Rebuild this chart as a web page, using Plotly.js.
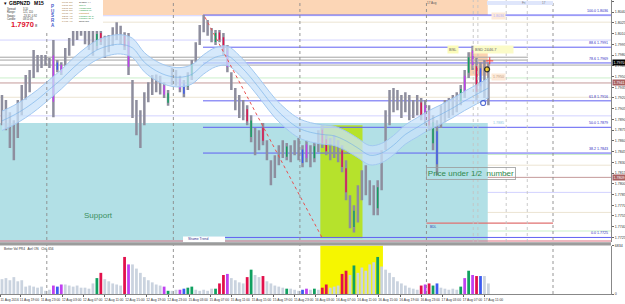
<!DOCTYPE html>
<html><head><meta charset="utf-8">
<script src="https://cdn.plot.ly/plotly-3.0.1.min.js"></script>
<style>html,body{margin:0;padding:0;background:#fff;}#chart{width:625px;height:304px;}</style>
</head><body><div id="chart"></div>
<script>
// ---------------- DATA ----------------
const symbol = "GBPNZD";
const timeframe = "M15";
const lastPrice = 1.7970;
// one sample = 3 M15 bars, first sample starts 11 Aug 2016 15:15
const BARS_PER_SAMPLE = 3;
const sampleHigh = [1.7924,1.7917,1.7900,1.7889,1.7917,1.7938,1.7952,1.7959,1.7987,1.7980,
1.7980,1.7980,1.7976,1.8001,1.7973,1.7970,1.7990,1.8004,1.8015,1.8022,
1.8026,1.8023,1.8018,1.8015,1.8015,1.8015,1.8007,1.8008,1.8019,1.8026,
1.8021,1.8012,1.8011,1.7945,1.7917,1.7903,1.7928,1.7942,1.7952,1.7953,
1.7951,1.7942,1.7931,1.7962,1.7959,1.7951,1.7945,1.7956,1.7973,1.7998,
1.8022,1.8036,1.8029,1.8018,1.8015,1.8015,1.8011,1.7994,1.7956,1.7934,
1.7924,1.7917,1.7910,1.7896,1.7878,1.7875,1.7885,1.7861,1.7833,1.7840,
1.7854,1.7861,1.7857,1.7854,1.7861,1.7864,1.7854,1.7861,1.7854,1.7858,
1.7875,1.7882,1.7868,1.7864,1.7868,1.7861,1.7854,1.7833,1.7784,1.7770,
1.7798,1.7819,1.7826,1.7805,1.7798,1.7805,1.7847,1.7903,1.7931,1.7934,
1.7931,1.7924,1.7928,1.7924,1.7917,1.7924,1.7920,1.7917,1.7910,1.7896,
1.7889,1.7910,1.7917,1.7920,1.7924,1.7928,1.7938,1.7959,1.7984,1.7993,
1.7976,1.7970,1.7973,1.7970];
const sampleLow = [1.7882,1.7875,1.7850,1.7833,1.7864,1.7896,1.7917,1.7928,1.7948,1.7956,
1.7962,1.7965,1.7962,1.7893,1.7956,1.7952,1.7965,1.7979,1.7993,1.8001,
1.8007,1.7995,1.7987,1.7979,1.7987,1.7994,1.7976,1.7984,1.7993,1.8001,
1.7995,1.7987,1.7952,1.7892,1.7868,1.7850,1.7882,1.7914,1.7924,1.7928,
1.7925,1.7920,1.7909,1.7938,1.7937,1.7928,1.7921,1.7931,1.7945,1.7970,
1.7994,1.8012,1.8007,1.7998,1.7994,1.7998,1.7980,1.7956,1.7931,1.7903,
1.7892,1.7889,1.7882,1.7858,1.7840,1.7847,1.7854,1.7833,1.7798,1.7808,
1.7826,1.7836,1.7833,1.7830,1.7840,1.7833,1.7823,1.7830,1.7823,1.7830,
1.7844,1.7850,1.7840,1.7833,1.7836,1.7830,1.7816,1.7777,1.7738,1.7732,
1.7746,1.7777,1.7784,1.7770,1.7756,1.7756,1.7791,1.7847,1.7882,1.7900,
1.7903,1.7892,1.7900,1.7889,1.7892,1.7896,1.7889,1.7882,1.7875,1.7847,
1.7812,1.7878,1.7886,1.7892,1.7896,1.7900,1.7910,1.7920,1.7948,1.7959,
1.7917,1.7928,1.7920,1.7910];
// VSA bar class: N normal, U up-climax, D down-climax, C churn, L low volume
const vsaClass = ("NNNNNNNNNN"+"NNNCLCNNNN"+"NNNNUDNNNN"+"NDCNNNNNNN"+"NCUNNCLUUN"+
"NNNNUDDCNN"+"NNDUNNDNNN"+"NNUNNNLCNU"+"NDDNNNDDNU"+"NNNNNUNNNN"+"NNNNNNDCDU"+"LNNNNNUCUC"+"DLNN").split('');
const volume = [2090,2240,1940,2380,1790,1940,1040,1190,1040,890,
1040,450,600,1190,1040,1340,1340,1190,1040,1190,
890,890,750,1490,2240,2980,2090,1790,1490,1340,
1190,5220,4170,4170,3580,2980,2380,1940,1640,1340,
1190,1040,450,450,600,600,750,890,1040,600,
450,600,450,750,750,1490,2680,2830,2240,1940,
1640,1490,2380,3430,2680,2380,2530,1790,1490,1190,
1040,890,750,750,600,450,600,750,600,750,
600,890,1340,890,1040,1190,2830,3280,2680,4020,
2980,3730,3280,4170,4470,5220,3870,3430,2980,2380,
1790,1490,1190,890,750,600,1190,1340,1490,1190,
1490,890,750,600,750,600,1040,2240,3280,2680,
2530,2530,2530,1490];
const volumeMax = 6834;
// moving-average envelope centre, one value every 3 samples
const maMid = [1.7888,1.7896,1.7906,1.7918,1.7932,1.7946,1.7962,1.7976,1.7987,1.7993,
1.7995,1.7990,1.7970,1.7958,1.7951,1.7949,1.7953,1.7967,1.7977,1.7979,
1.7966,1.7948,1.7927,1.7906,1.7890,1.7878,1.7872,1.7869,1.7867,1.7860,
1.7850,1.7840,1.7843,1.7854,1.7869,1.7879,1.7889,1.7897,1.7906,1.7916,
1.7925,1.7934];
const maHalfWidth = 0.00135;
// time axis
const tickBars = [0,15,31,47,63,79,95,111,127,143,159,175,191,207,223,239,255,271,287,303,319,335,351,367];
const tickText = ["11 Aug 2016","11 Aug 19:00","11 Aug 23:00","12 Aug 03:00","12 Aug 07:00","12 Aug 11:00",
"12 Aug 15:00","12 Aug 19:00","12 Aug 23:00","15 Aug 03:00","15 Aug 07:00","15 Aug 11:00","15 Aug 15:00",
"15 Aug 19:00","15 Aug 23:00","16 Aug 03:00","16 Aug 07:00","16 Aug 11:00","16 Aug 15:00","16 Aug 19:00",
"16 Aug 23:00","17 Aug 03:00","17 Aug 07:00","17 Aug 11:00"];
const daySeparatorBars = [35,131,227,323,419];
const sessionBars = [358.5,362,383.5,399.5];
// Fibonacci retracement
const fibStartBar = 153.5;
const fibPct = ["100.0","88.6","78.6","61.8","50.0","38.2","0.0"];
const fibPrice = [1.8036,1.7991,1.7969,1.7916,1.7879,1.7843,1.7725];
// pivot / level lines
const levelPrice = [1.8035,1.8026,1.8001,1.7966,1.7948,1.7941,1.7921,1.7895,1.7841,1.7826,1.7809,1.7788,1.7760,1.7734];
const levelKind  = ["lav","pale","lav","grey","green","brown","pale","lav","green","pale","brown","lav","pale","green"];
const greyPair = [1.7977,1.7973];
// zones [startBar, endBar, lowPrice, highPrice]
const supplyZone = [75.5,369.5,1.8036,1.8060];
const supportZone = [-0.5,369.5,1.7700,1.7885];
const climaxZone = [242.5,274.5,1.7724,1.7882];
const targetZone = [355,369.5,1.7951,1.7984];
const climaxVolumeBars = [242.5,290];
const trendBars = [155,244], trendPrices = [1.8033,1.7724];
const bdlBars = [323,419], bdlPrice = 1.7745;
const bottomTrendPrice = 1.7720;
const signalBars = [369,366,371], signalPrices = [1.7960,1.7913,1.7972];

// ---------------- BUILD ----------------
const sampleBars = sampleHigh.map((_, i) => i*BARS_PER_SAMPLE + 1);
const maBars = maMid.map((_, k) => k*3*BARS_PER_SAMPLE + 1);
const priceCol = {U:'#11a060',D:'#e2104c',C:'#c040f0',L:'#3c5cf0'};
const volCol   = {N:'#cad3df',U:'#11a060',D:'#e2104c',C:'#c040f0',L:'#3c5cf0'};
const yRange = [1.77182, 1.8057];
const PW = 611, PH = 294;
const px = x => x/PW, py = y => (PH - y)/PH;
const colored = sampleBars.map((_, i) => i).filter(i => vsaClass[i] !== 'N');

const traces = [
 {type:'scatter',mode:'lines',x:maBars,y:maMid.map(v=>v+maHalfWidth),line:{color:'#a2c8f0',width:1,shape:'spline'},hoverinfo:'skip'},
 {type:'scatter',mode:'lines',x:maBars,y:maMid.map(v=>v-maHalfWidth),fill:'tonexty',fillcolor:'rgba(200,226,250,0.75)',line:{color:'#a2c8f0',width:1,shape:'spline'},hoverinfo:'skip'},
 {type:'scatter',mode:'lines',x:maBars,y:maMid,line:{color:'#72aee8',width:0.6,shape:'spline'},hoverinfo:'skip'},
 {type:'bar',x:sampleBars,base:sampleLow,y:sampleHigh.map((h,i)=>h-sampleLow[i]),width:1.9,
  marker:{color:'#8e8e9e',line:{width:0}},xaxis:'x',yaxis:'y'},
 {type:'bar',x:colored.map(i=>sampleBars[i]),base:colored.map(i=>sampleLow[i]+(sampleHigh[i]-sampleLow[i])*0.2),
  y:colored.map(i=>(sampleHigh[i]-sampleLow[i])*0.6),width:1.1,
  marker:{color:colored.map(i=>priceCol[vsaClass[i]]),line:{width:0}},xaxis:'x',yaxis:'y'},
 {type:'bar',x:sampleBars,y:volume,width:2.1,marker:{color:vsaClass.map(c=>volCol[c]),line:{width:0}},xaxis:'x',yaxis:'y2'},
 {type:'scatter',mode:'markers',x:signalBars,y:signalPrices,
  marker:{symbol:['circle','circle-open','cross-thin'],size:[5,5,5],color:['#ffd800','#1030c0','#ff2020'],line:{color:['#000','#1030c0','#ff2020'],width:1.2}}}
];

const levelColors = {lav:'#d2d2ff',pale:'#ece4d2',grey:'#a8a8a8',green:'#cbefcb',brown:'#c49a9a'};
const shapes = [];
const rect = (z, fill, yref='y') => shapes.push({type:'rect',xref:'x',yref,x0:z[0],x1:z[1],y0:z[2],y1:z[3],fillcolor:fill,line:{width:0},layer:'below'});
rect(supplyZone,'#fcd6b6');
rect(supportZone,'#b2e0e6');
rect(climaxZone,'#b6e22c');
rect(targetZone,'rgba(252,208,172,0.95)');
shapes.push({type:'rect',xref:'x',yref:'y2',x0:climaxVolumeBars[0],x1:climaxVolumeBars[1],y0:0,y1:volumeMax,fillcolor:'#f6f600',line:{width:0},layer:'below'});
levelPrice.forEach((p,i)=>shapes.push({type:'line',xref:'paper',yref:'y',x0:0,x1:1,y0:p,y1:p,line:{color:levelColors[levelKind[i]],width:1},layer:'below'}));
greyPair.forEach(p=>shapes.push({type:'line',xref:'x',yref:'y',x0:-0.5,x1:400,y0:p,y1:p,line:{color:'#a4a4a4',width:1},layer:'below'}));
fibPrice.forEach(p=>shapes.push({type:'line',xref:'x',yref:'y',x0:fibStartBar,x1:463,y0:p,y1:p,line:{color:'#6060f2',width:1},layer:'below'}));
shapes.push({type:'line',xref:'paper',yref:'y',x0:0,x1:1,y0:bottomTrendPrice,y1:bottomTrendPrice,line:{color:'#e07080',width:1.2}});
shapes.push({type:'line',xref:'x',yref:'y',x0:bdlBars[0],x1:bdlBars[1],y0:bdlPrice,y1:bdlPrice,line:{color:'#e07070',width:1.2}});
shapes.push({type:'line',xref:'x',yref:'y',x0:trendBars[0],x1:trendBars[1],y0:trendPrices[0],y1:trendPrices[1],line:{color:'#e85050',width:1,dash:'dot'}});
daySeparatorBars.forEach(b=>shapes.push({type:'line',xref:'x',yref:'paper',x0:b,x1:b,y0:0,y1:1,line:{color:'#8a8a8a',width:0.9,dash:'dot'}}));
sessionBars.forEach(b=>shapes.push({type:'line',xref:'x',yref:'paper',x0:b,x1:b,y0:py(242),y1:1,line:{color:'#c4c4c4',width:0.9,dash:'dot'}}));
// pane separator
shapes.push({type:'rect',xref:'paper',yref:'paper',x0:0,x1:1,y0:py(245.5),y1:py(242.3),fillcolor:'#9c9c9c',line:{width:0},layer:'above'});
// top strip
shapes.push({type:'rect',xref:'paper',yref:'paper',x0:px(487),x1:px(553),y0:py(5),y1:py(1),fillcolor:'#dfe6fb',line:{width:0},layer:'above'});
// info box
shapes.push({type:'rect',xref:'paper',yref:'paper',x0:0,x1:px(103),y0:py(31),y1:1,fillcolor:'#ffffff',line:{width:0},layer:'above'});
// trend label box
shapes.push({type:'rect',xref:'paper',yref:'paper',x0:px(183),x1:px(225),y0:py(242),y1:py(236.5),fillcolor:'#ffffff',line:{width:0},layer:'above'});

const ann = [];
const T = (x,y,text,size,color,o={}) => ann.push(Object.assign({xref:'paper',yref:'paper',x:px(x),y:py(y),text,showarrow:false,xanchor:'left',yanchor:'middle',font:{size,color}},o));
T(1.5,3.5,'▾',5,'#000');
T(7,3.5,'<b>'+symbol+'</b>',5,'#000');
T(32,3.5,'<b>'+timeframe+'</b>',5,'#000');
[['Spread:','3.10'],['Range:','121, 110'],['Swaps:','-23.32, 0.92'],['Candle:','08:11:05']].forEach((r,i)=>{
  T(5,9.5+i*3,r[0],2.6,'#333'); T(21,9.5+i*3,r[1],2.6,'#333');});
T(9,25,'<b>'+lastPrice.toFixed(4)+'</b>',7.5,'#e0102c');
T(33,26,'8',4,'#333');
['P','U','S','R','A'].forEach((c,i)=>T(48.5,6+i*5,'<b>'+c+'</b>',4.5,'#3b56c8'));
const sessions = [['00:01 PM','Sydney (-)','#222'],['03:01 PM','Tokyo','#1a9a3a'],['03:01 PM','HongKong','#1a9a3a'],
['05:01 PM','Hassold (0)','#1a9a3a'],['06:01 AM','Frankfurt','#c07010'],['12:01 AM','London (O-1)','#1a9a3a'],
['03:01 AM','London (O-1)','#1a9a3a'],['04:01 AM','NewYork','#222']];
sessions.forEach((s,i)=>{T(60,2.5+i*2.75,s[0],2.5,'#9a6a30');T(77,2.5+i*2.75,s[1],2.5,s[2]);});
// fib labels
fibPrice.forEach((p,i)=>ann.push({xref:'paper',yref:'y',x:1,y:p,xanchor:'right',yanchor:'bottom',xshift:-1,text:fibPct[i]+' '+p.toFixed(4),showarrow:false,font:{size:3.6,color:'#2b2bc0'}}));
// right price boxes
[[lastPrice,'#000'],[1.7941,'#a86060'],[1.7809,'#a86060']].forEach(b=>ann.push({xref:'paper',yref:'y',x:1,y:b[0],xanchor:'left',yanchor:'middle',xshift:1,text:b[0].toFixed(4),showarrow:false,bgcolor:b[1],borderpad:0.5,font:{size:3.6,color:'#fff'}}));
// chart labels
ann.push({xref:'x',yref:'y',x:74,y:1.7756,text:'Support',showarrow:false,font:{size:8,color:'#3c8f5e'}});
ann.push({xref:'x',yref:'y',x:357,y:1.7815,text:'Price under 1/2  number',showarrow:false,bordercolor:'#9a9a9a',borderwidth:0.8,borderpad:1,font:{size:8,color:'#2f8a4e'}});
ann.push({xref:'x',yref:'y',x:343,y:1.7988,text:'BSL',showarrow:false,bgcolor:'#fbfbb8',font:{size:4,color:'#666'}});
ann.push({xref:'x',yref:'y',x:358,y:1.7988,text:'BSD 2446.7              ',xanchor:'left',showarrow:false,bgcolor:'#fbfbc8',font:{size:4,color:'#666'}});
ann.push({xref:'x',yref:'y',x:372,y:1.8034,text:'1.8036',xanchor:'left',showarrow:false,bgcolor:'#fde9d8',font:{size:3.6,color:'#b0b0ff'}});
ann.push({xref:'x',yref:'y',x:372,y:1.7950,text:'1.7950',xanchor:'left',showarrow:false,bgcolor:'#fde9d8',font:{size:3.6,color:'#c0a080'}});
ann.push({xref:'x',yref:'y',x:372,y:1.7885,text:'1.7885',xanchor:'left',showarrow:false,font:{size:3.6,color:'#8cc8e0'}});
ann.push({xref:'x',yref:'y',x:324,y:1.7740,text:'BDL',xanchor:'left',showarrow:false,font:{size:3.2,color:'#3040b0'}});
T(186,239.3,'Shame Trend',3.4,'#303090');
T(2,249,'Better Vol PR4   Avrl ON   Clvl: 656',3.2,'#333');
T(425,3,'17 Aug',3,'#555'); T(520,3,'Fri',3,'#777'); T(540,3,'17',3,'#777');

const layout = {
 width:625,height:304,margin:{l:0,r:14,t:0,b:10},
 paper_bgcolor:'#ffffff',plot_bgcolor:'#ffffff',showlegend:false,barmode:'overlay',
 font:{family:'Liberation Sans, Arial, sans-serif',size:4,color:'#222'},
 xaxis:{domain:[0,1],range:[-0.5,463],anchor:'y2',tickmode:'array',tickvals:tickBars,ticktext:tickText,tickangle:0,
  tickfont:{size:3.3,color:'#333'},ticks:'outside',ticklen:2,tickcolor:'#666',showgrid:false,zeroline:false,
  showline:true,linecolor:'#888',linewidth:1,ticklabelshift:9,ticklabelstandoff:0},
 yaxis:{domain:[py(242.3),1],range:yRange,side:'right',tickmode:'linear',tick0:1.7980,dtick:0.0015,tickformat:'.4f',
  tickfont:{size:3.6,color:'#333'},ticks:'outside',ticklen:2,tickcolor:'#666',showgrid:false,zeroline:false,showline:true,linecolor:'#888',linewidth:1},
 yaxis2:{domain:[0,py(245.5)],range:[0,volumeMax],side:'right',tickvals:[0,volumeMax],ticktext:['0',String(volumeMax)],
  tickfont:{size:3.6,color:'#333'},ticks:'outside',ticklen:2,tickcolor:'#666',showgrid:false,zeroline:false,showline:true,linecolor:'#888',linewidth:1},
 shapes,annotations:ann
};
Plotly.newPlot('chart',traces,layout,{staticPlot:true,displayModeBar:false});
</script></body></html>
